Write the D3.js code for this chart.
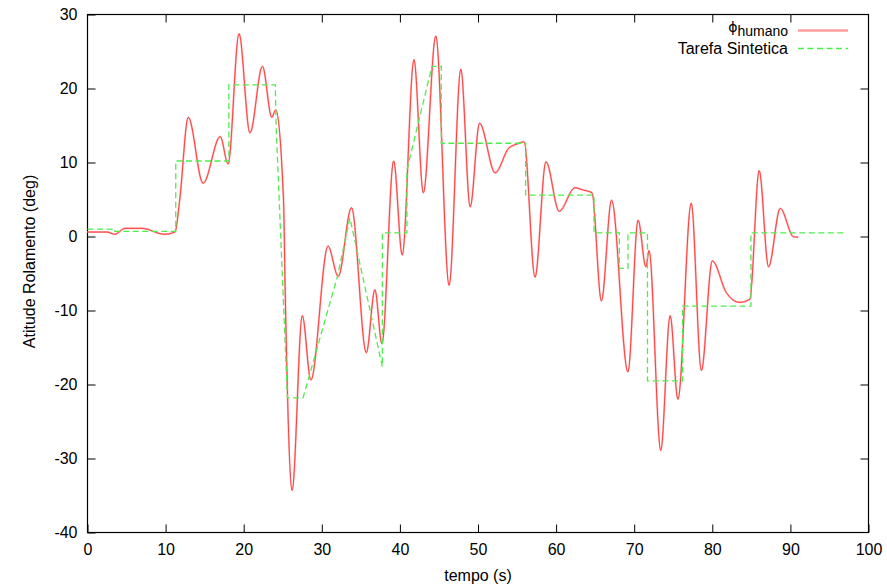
<!DOCTYPE html>
<html>
<head>
<meta charset="utf-8">
<script src="https://cdn.jsdelivr.net/npm/d3@7"></script>
<style>
	body { margin: 0; background: white; }
	text { font-family: 'Liberation Sans', Arial, sans-serif; }
</style>
</head>
<body>
<div id="outer"></div>
<script>

////////// DATA //////////

// phi humano (red), peaks and troughs
const humanoTime = [0, 2.5, 3.5, 4.8, 7.0, 9.8, 11.2, 11.8, 12.9, 14.8, 17.0, 18.0, 19.4, 20.8, 22.4, 23.6, 24.1, 25.1, 25.3, 26.2,
	27.5, 28.6, 30.8, 32.1, 33.8, 35.7, 36.8, 37.7, 39.2, 40.3, 41.8, 43.0, 44.6, 46.3, 47.8, 49.0, 50.2, 52.2, 53.9, 55.0, 55.9,
	57.3, 58.7, 60.4, 62.4, 63.4, 64.6, 65.8, 67.1, 69.2, 70.5, 71.5, 71.9, 73.4, 74.6, 75.6, 77.3, 78.6, 80.0, 81.8, 83.5, 84.8,
	86.0, 87.2, 88.7, 90.4, 91.0];
const humanoValue = [0.6, 0.6, 0.3, 1.1, 1.1, 0.3, 0.6, 4.9, 16.1, 7.2, 13.5, 9.8, 27.4, 14.0, 23.0, 16.1, 17.1, 4.9, -6.7, -34.3,
	-10.7, -19.4, -1.3, -5.4, 3.9, -15.7, -7.2, -14.5, 10.2, -2.5, 23.9, 5.9, 27.1, -6.6, 22.6, 4.0, 15.3, 8.6, 11.9, 12.5, 12.8,
	-5.5, 10.1, 3.4, 6.6, 6.3, 5.9, -8.7, 4.9, -18.3, 2.2, -4.1, -1.9, -28.9, -10.7, -22.0, 4.5, -18.1, -3.3, -7.6, -8.9, -8.5,
	8.9, -4.1, 3.8, -0.05, -0.1];

// Tarefa Sintetica (green dashed)
const tarefaTime = [0, 3.5, 3.5, 11.3, 11.3, 18.1, 18.1, 24.05, 24.15, 25.6, 27.6, 32.0, 33.6, 37.75, 37.75, 40.9, 40.9, 44.1,
	45.3, 45.3, 56.1, 56.1, 64.85, 64.85, 68.1, 68.1, 69.2, 69.2, 71.7, 71.7, 76.2, 76.2, 84.95, 84.95, 96.8];
const tarefaValue = [1.0, 1.0, 0.7, 0.7, 10.2, 10.2, 20.5, 20.5, 15.0, -21.8, -21.8, -5.4, 2.5, -17.6, 0.5, 0.5, 9.0, 23.0,
	23.0, 12.6, 12.6, 5.6, 5.6, 0.5, 0.5, -4.3, -4.3, 0.5, 0.5, -19.5, -19.5, -9.4, -9.4, 0.5, 0.5];

const xTicks = [0, 10, 20, 30, 40, 50, 60, 70, 80, 90, 100];
const yTicks = [-40, -30, -20, -10, 0, 10, 20, 30];


////////// SIZING //////////
const jqWidth = 887;
const jqHeight = 586;
const margin = {top: 14.5, left: 87.5, right: 18.5, bottom: 53.5};
const graphicWidth = jqWidth - (margin.left + margin.right);
const graphicHeight = jqHeight - (margin.top + margin.bottom);
const tickLen = 8;

const x = d3.scaleLinear().domain([0, 100]).range([0, graphicWidth]);
const y = d3.scaleLinear().domain([-40, 30]).range([graphicHeight, 0]);


////////// INITIALIZATION //////////
const svg = d3.select('#outer').append('svg')
	.attr('width', jqWidth)
	.attr('height', jqHeight);

const graphicGroup = svg.append('g')
	.attr('transform', `translate(${margin.left}, ${margin.top})`);


// AXES (ticks inward, mirrored on top / right) //
const plainNumber = d => String(d);   // plain hyphen minus like gnuplot
const styleAxis = g => {
	g.select('.domain').remove();
	g.selectAll('line').attr('stroke', '#000').attr('stroke-width', 1);
	g.selectAll('text').attr('fill', '#000').style('font-size', '16px').style('font-family', "'Liberation Sans', Arial, sans-serif");
};

graphicGroup.append('g')
	.attr('transform', `translate(0, ${graphicHeight})`)
	.call(d3.axisBottom(x).tickValues(xTicks).tickSize(-tickLen).tickPadding(11).tickFormat(plainNumber))
	.call(styleAxis);

graphicGroup.append('g')
	.call(d3.axisTop(x).tickValues(xTicks.slice(1, -1)).tickSize(-tickLen).tickFormat(''))
	.call(styleAxis);

graphicGroup.append('g')
	.call(d3.axisLeft(y).tickValues(yTicks).tickSize(-tickLen).tickPadding(10).tickFormat(plainNumber))
	.call(styleAxis);

graphicGroup.append('g')
	.attr('transform', `translate(${graphicWidth}, 0)`)
	.call(d3.axisRight(y).tickValues(yTicks.slice(1, -1)).tickSize(-tickLen).tickFormat(''))
	.call(styleAxis);

// frame
graphicGroup.append('rect')
	.attr('width', graphicWidth)
	.attr('height', graphicHeight)
	.attr('fill', 'none')
	.attr('stroke', '#000')
	.attr('stroke-width', 1.2);


// AXIS TITLES //
svg.append('text')
	.attr('x', margin.left + graphicWidth / 2)
	.attr('y', 581)
	.attr('text-anchor', 'middle')
	.style('font-size', '16px')
	.text('tempo (s)');

svg.append('text')
	.attr('transform', `translate(35, ${margin.top + graphicHeight / 2 - 12}) rotate(-90)`)
	.attr('text-anchor', 'middle')
	.style('font-size', '16px')
	.text('Atitude Rolamento (deg)');


// SERIES //
const humanoLine = d3.line()
	.x(i => x(humanoTime[i]))
	.y(i => y(humanoValue[i]))
	.curve(d3.curveMonotoneX);

const tarefaLine = d3.line()
	.x(i => x(tarefaTime[i]))
	.y(i => y(tarefaValue[i]));

const plotGroup = graphicGroup.append('g');

// pink halo under the red line, like the original anti-aliasing
plotGroup.append('path')
	.attr('d', humanoLine(d3.range(humanoTime.length)))
	.attr('fill', 'none')
	.attr('stroke', '#ffb4b4')
	.attr('stroke-width', 2);

plotGroup.append('path')
	.attr('d', humanoLine(d3.range(humanoTime.length)))
	.attr('fill', 'none')
	.attr('stroke', '#ff2020')
	.attr('stroke-width', 0.8);

plotGroup.append('path')
	.attr('d', tarefaLine(d3.range(tarefaTime.length)))
	.attr('fill', 'none')
	.attr('stroke', '#4cee4c')
	.attr('stroke-width', 1.3)
	.attr('stroke-dasharray', '6,3.5');


// LEGEND //
const legendX = 788;
const legend = svg.append('g');

const phiLabel = legend.append('text')
	.attr('x', legendX)
	.attr('y', 32)
	.attr('text-anchor', 'end')
	.style('font-size', '14px');
phiLabel.append('tspan').text('ϕ').style('font-family', "'DejaVu Sans', sans-serif").style('font-size', '14px');
phiLabel.append('tspan').attr('dy', 3.5).style('font-size', '14px').text('humano');

legend.append('text')
	.attr('x', legendX)
	.attr('y', 54)
	.attr('text-anchor', 'end')
	.style('font-size', '16px')
	.text('Tarefa Sintetica');

legend.append('line')
	.attr('x1', 798).attr('x2', 848)
	.attr('y1', 30.5).attr('y2', 30.5)
	.attr('stroke', '#ff9c9c')
	.attr('stroke-width', 2.4);

legend.append('line')
	.attr('x1', 798).attr('x2', 848)
	.attr('y1', 48.5).attr('y2', 48.5)
	.attr('stroke', '#4cee4c')
	.attr('stroke-width', 1.3)
	.attr('stroke-dasharray', '6,3.5');

</script>
</body>
</html>
